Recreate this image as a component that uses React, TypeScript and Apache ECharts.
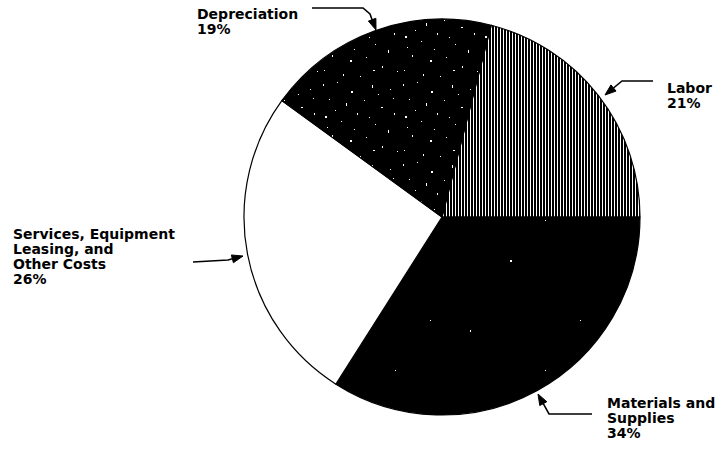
import React, { useEffect, useRef } from "react";
import * as echarts from "echarts";

// ---- data ----
const categories = ["Labor", "Materials and\nSupplies", "Services, Equipment\nLeasing, and\nOther Costs", "Depreciation"];
const shares = [21, 34, 26, 19];

// ---- annotation layout (label anchors and arrow paths) ----
const labelAnchors = [
  [667, 80],
  [607, 395],
  [13, 226],
  [197, 6],
];
const arrowPaths: number[][][] = [
  [[653, 81], [622, 81], [605, 95]],
  [[592, 414], [549, 414], [538, 394]],
  [[193, 262], [228, 260], [243, 256]],
  [[312, 8], [363, 8], [370, 14], [376, 30]],
];

// texture dots [x, y, w, h] inside a tile
const speckles = [
  [3, 4, 1, 2], [17, 2, 1, 1], [31, 11, 2, 2], [52, 5, 1, 3], [70, 9, 1, 1],
  [9, 19, 1, 1], [26, 23, 1, 3], [44, 20, 1, 1], [61, 27, 2, 1], [74, 33, 1, 2],
  [5, 36, 2, 2], [21, 41, 1, 1], [37, 33, 1, 2], [55, 44, 1, 1], [68, 50, 1, 3],
  [12, 55, 1, 2], [30, 60, 2, 2], [46, 57, 1, 1], [62, 66, 1, 2], [77, 71, 1, 1],
  [4, 70, 1, 1], [23, 74, 1, 2], [40, 76, 1, 1], [53, 70, 2, 1], [15, 30, 1, 1],
  [49, 37, 1, 1], [34, 49, 1, 1], [7, 47, 1, 1], [73, 18, 1, 1], [58, 14, 1, 1],
];
const sparseSpeckles = [[20, 30, 1, 2], [95, 70, 1, 1], [60, 110, 2, 2], [130, 20, 1, 1]];

function stripeTile() {
  const c = document.createElement("canvas");
  c.width = 3;
  c.height = 4;
  const g = c.getContext("2d")!;
  g.fillStyle = "#fff";
  g.fillRect(0, 0, 3, 4);
  g.fillStyle = "#000";
  g.fillRect(0, 0, 2, 4);
  return c;
}

function speckleTile(size: number, dots: number[][]) {
  const c = document.createElement("canvas");
  c.width = size;
  c.height = size;
  const g = c.getContext("2d")!;
  g.fillStyle = "#000";
  g.fillRect(0, 0, size, size);
  g.fillStyle = "#fff";
  dots.forEach(([x, y, w, h]) => g.fillRect(x, y, w, h));
  return c;
}

function arrowHead(path: number[][]) {
  const n = path.length;
  const [x1, y1] = path[n - 2];
  const [x2, y2] = path[n - 1];
  const dx = x2 - x1;
  const dy = y2 - y1;
  const L = Math.hypot(dx, dy);
  const ux = dx / L;
  const uy = dy / L;
  const len = 11;
  const hw = 4;
  const bx = x2 - ux * len;
  const by = y2 - uy * len;
  return [
    [x2, y2],
    [bx - uy * hw, by + ux * hw],
    [bx + uy * hw, by - ux * hw],
  ];
}

export default function App() {
  const ref = useRef<HTMLDivElement>(null);
  useEffect(() => {
    if (!ref.current) return;
    const chart = echarts.init(ref.current, null, { renderer: "svg" });
    const s1 = stripeTile();
    const s2 = speckleTile(80, speckles);
    const s3 = speckleTile(150, sparseSpeckles);
    const fills: any[] = [
      { image: s1, repeat: "repeat", imageWidth: 3, imageHeight: 4 },
      { image: s3, repeat: "repeat", imageWidth: 150, imageHeight: 150 },
      "#ffffff",
      { image: s2, repeat: "repeat", imageWidth: 80, imageHeight: 80 },
    ];
    const graphics: any[] = [];
    arrowPaths.forEach((p) => {
      const head = arrowHead(p);
      const base = head[1].map((v, i) => (v + head[2][i]) / 2);
      graphics.push({
        type: "polyline",
        shape: { points: p.slice(0, p.length - 1).concat([base]) },
        style: { stroke: "#000", lineWidth: 1.6, fill: null },
        silent: true,
      });
      graphics.push({
        type: "polygon",
        shape: { points: head },
        style: { fill: "#000", stroke: "#000", lineWidth: 1 },
        silent: true,
      });
    });
    chart.setOption({
      animation: false,
      backgroundColor: "#ffffff",
      graphic: graphics,
      series: [
        {
          type: "pie",
          center: [442, 217],
          radius: 198,
          startAngle: 75.6,
          clockwise: true,
          silent: true,
          avoidLabelOverlap: false,
          data: categories.map((name, i) => ({
            name,
            value: shares[i],
            itemStyle: { color: fills[i] },
          })),
          itemStyle: { borderColor: "#000", borderWidth: 1.2 },
          label: {
            show: true,
            formatter: "{b}\n{c}%",
            fontFamily: "DejaVu Sans",
            fontWeight: "bold",
            fontSize: 14,
            lineHeight: 15,
            color: "#000",
          },
          labelLine: { show: false },
          labelLayout: (params: any) => {
            const a = labelAnchors[params.dataIndex];
            return { x: a[0], y: a[1], align: "left", verticalAlign: "top" };
          },
          emphasis: { disabled: true },
        },
      ],
    });
    return () => chart.dispose();
  }, []);
  return (
    <div
      ref={ref}
      style={{ position: "absolute", left: 0, top: 0, width: 716, height: 454 }}
    />
  );
}
